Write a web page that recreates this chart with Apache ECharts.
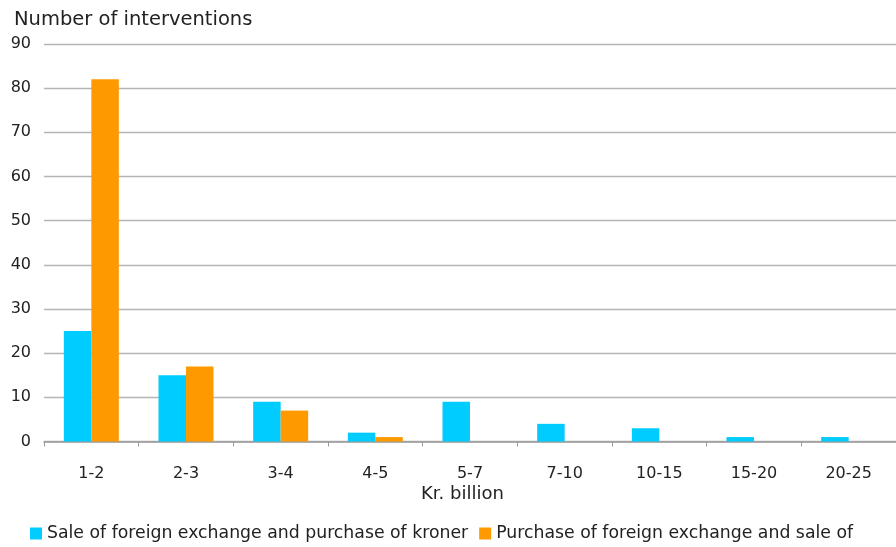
<!DOCTYPE html>
<html>
<head>
<meta charset="utf-8">
<style>
  html, body { margin: 0; padding: 0; background: #fff; }
  #chart { width: 896px; height: 547px; }
</style>
<script src="https://cdn.jsdelivr.net/npm/echarts@6/dist/echarts.min.js"></script>
</head>
<body>
<div id="chart"></div>
<script>
// Intervention size bands (kr. billion)
const categories = ['1-2', '2-3', '3-4', '4-5', '5-7', '7-10', '10-15', '15-20', '20-25'];
// Number of interventions in each band
const saleOfForeignExchange = [25, 15, 9, 2, 9, 4, 3, 1, 1];
const purchaseOfForeignExchange = [82, 17, 7, 1, 0, 0, 0, 0, 0];
const seriesNames = [
  'Sale of foreign exchange and purchase of kroner',
  'Purchase of foreign exchange and sale of'
];
const yTicks = { min: 0, max: 90, interval: 10 };

const FONT = '"DejaVu Sans", sans-serif';
const chart = echarts.init(document.getElementById('chart'), null, { renderer: 'canvas' });

chart.setOption({
  animation: false,
  backgroundColor: '#ffffff',
  textStyle: { fontFamily: FONT },
  title: {
    text: 'Number of interventions',
    left: 9,
    top: 5,
    textStyle: { fontFamily: FONT, fontSize: 19.5, fontWeight: 'normal', color: '#222' }
  },
  graphic: [{
    type: 'text',
    left: 421,
    top: 485,
    style: { text: 'Kr. billion', font: '18px ' + FONT, fill: '#222' }
  }],
  legend: {
    left: 30,
    top: 525,
    padding: 0,
    icon: 'rect',
    itemWidth: 12,
    itemHeight: 12,
    itemGap: 11,
    textStyle: { fontFamily: FONT, fontSize: 17.3, color: '#222', padding: 0 },
    data: seriesNames
  },
  grid: { left: 44, top: 44, width: 857, height: 397.5, containLabel: false },
  xAxis: {
    type: 'category',
    data: categories,
    axisLine: { show: true, lineStyle: { color: '#999', width: 1.5 } },
    axisTick: { show: true, length: 5, lineStyle: { color: '#999' } },
    axisLabel: { fontFamily: FONT, fontSize: 16, color: '#222', margin: 24 }
  },
  yAxis: {
    type: 'value',
    min: yTicks.min,
    max: yTicks.max,
    interval: yTicks.interval,
    axisLine: { show: false },
    axisTick: { show: false },
    axisLabel: { fontFamily: FONT, fontSize: 16, color: '#222', margin: 13 },
    splitLine: { lineStyle: { color: '#b5b5b5', width: 1.3 } }
  },
  series: [
    {
      name: seriesNames[0],
      type: 'bar',
      data: saleOfForeignExchange,
      itemStyle: { color: '#00ccff' },
      barWidth: 27.5,
      barGap: '0%'
    },
    {
      name: seriesNames[1],
      type: 'bar',
      data: purchaseOfForeignExchange,
      itemStyle: { color: '#ff9900' },
      barWidth: 27.5,
      barGap: '0%'
    }
  ]
});
</script>
</body>
</html>
